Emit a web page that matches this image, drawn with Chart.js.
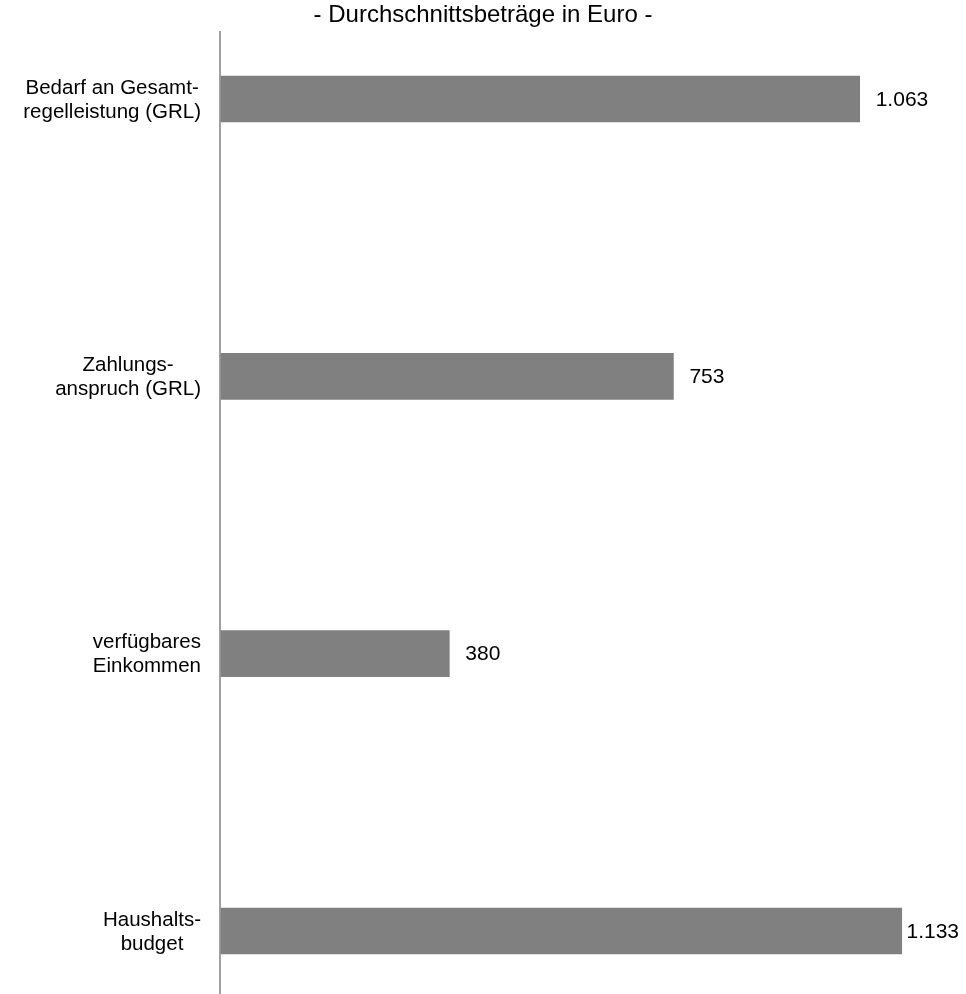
<!DOCTYPE html>
<html lang="de">
<head>
<meta charset="utf-8">
<title>Durchschnittsbeträge in Euro</title>
<script src="https://cdn.jsdelivr.net/npm/chart.js@4.4.1/dist/chart.umd.min.js"></script>
<style>
    html, body { margin: 0; padding: 0; background: #fff; }
    #wrap { width: 966px; height: 994px; }
</style>
</head>
<body>
<div id="wrap"><canvas id="mainChart"></canvas></div>
<script>
// Chart data
const categories = [
    ['Bedarf an Gesamt-', 'regelleistung (GRL)'],
    ['Zahlungs-', 'anspruch (GRL)'],
    ['verfügbares', 'Einkommen'],
    ['Haushalts-', 'budget']
];
const amounts = [1063, 753, 380, 1133];
const titleText = '- Durchschnittsbeträge in Euro -';

const FONT = '"Liberation Sans", Arial, sans-serif';

// German thousands separator
function formatEuro(v) {
    return String(v).replace(/\B(?=(\d{3})+(?!\d))/g, '.');
}

// Title centred on the whole canvas
const canvasTitle = {
    id: 'canvasTitle',
    afterDraw(chart) {
        const ctx = chart.ctx;
        ctx.save();
        ctx.font = '24px ' + FONT;
        ctx.fillStyle = '#000';
        ctx.textAlign = 'center';
        ctx.textBaseline = 'middle';
        ctx.fillText(titleText, chart.width / 2, 15);
        ctx.restore();
    }
};

// Vertical axis line, runs past the first and last bar
const axisLine = {
    id: 'axisLine',
    beforeDatasetsDraw(chart) {
        const ctx = chart.ctx;
        const area = chart.chartArea;
        const y = chart.scales.y;
        const step = y.getPixelForValue(1) - y.getPixelForValue(0);
        ctx.save();
        ctx.strokeStyle = '#a0a0a0';
        ctx.lineWidth = 2;
        ctx.beginPath();
        ctx.moveTo(area.left - 1, area.top - step * 0.245);
        ctx.lineTo(area.left - 1, chart.height);
        ctx.stroke();
        ctx.restore();
    }
};

// Category labels: block right aligned, lines centred inside the block
const categoryLabels = {
    id: 'categoryLabels',
    afterDraw(chart) {
        const ctx = chart.ctx;
        const yScale = chart.scales.y;
        const right = chart.chartArea.left - 20;
        const lineH = 24;
        ctx.save();
        ctx.font = '20.5px ' + FONT;
        ctx.fillStyle = '#000';
        ctx.textAlign = 'center';
        ctx.textBaseline = 'middle';
        categories.forEach((lines, i) => {
            const cy = yScale.getPixelForValue(i) + 1;
            const maxW = Math.max(...lines.map(l => ctx.measureText(l).width));
            const cx = right - maxW / 2;
            lines.forEach((line, j) => {
                ctx.fillText(line, cx, cy + (j - (lines.length - 1) / 2) * lineH);
            });
        });
        ctx.restore();
    }
};

// Value labels at the end of each bar, kept inside the canvas
const valueLabels = {
    id: 'valueLabels',
    afterDatasetsDraw(chart) {
        const ctx = chart.ctx;
        const meta = chart.getDatasetMeta(0);
        ctx.save();
        ctx.font = '21px ' + FONT;
        ctx.fillStyle = '#000';
        ctx.textAlign = 'left';
        ctx.textBaseline = 'middle';
        meta.data.forEach((bar, i) => {
            const txt = formatEuro(amounts[i]);
            const w = ctx.measureText(txt).width;
            const x = Math.min(bar.x + 16, chart.width - 7 - w);
            ctx.fillText(txt, x, bar.y + 1);
        });
        ctx.restore();
    }
};

const ctx = document.getElementById('mainChart').getContext('2d');
new Chart(ctx, {
    type: 'bar',
    data: {
        labels: categories,
        datasets: [{
            data: amounts,
            backgroundColor: '#808080',
            borderWidth: 0,
            barThickness: 46,
            clip: false
        }]
    },
    options: {
        indexAxis: 'y',
        responsive: true,
        maintainAspectRatio: false,
        animation: false,
        layout: {
            padding: { left: 221, right: 24, top: 99, bottom: 63 }
        },
        plugins: {
            legend: { display: false },
            tooltip: { enabled: false },
            title: { display: false }
        },
        scales: {
            x: {
                display: false,
                min: 0,
                max: 1200
            },
            y: {
                offset: false,
                grid: { display: false },
                border: { display: false },
                ticks: { display: false },
                afterFit: (scale) => { scale.width = 0; }
            }
        }
    },
    plugins: [axisLine, categoryLabels, valueLabels, canvasTitle]
});
</script>
</body>
</html>
